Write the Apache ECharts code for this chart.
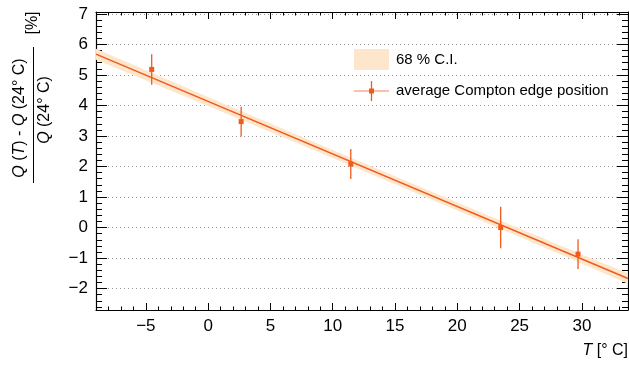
<!DOCTYPE html>
<html>
<head>
<meta charset="utf-8">
<script src="https://cdn.jsdelivr.net/npm/echarts@6/dist/echarts.min.js"></script>
<style>
html,body{margin:0;padding:0;background:#fff;}
#c{width:629px;height:365px;}
</style>
</head>
<body>
<div id="c"></div>
<script>
// ---- data ----
const tempC      = [-4.53, 2.65, 11.45, 23.48, 29.69];   // T [°C]
const deltaQ     = [5.18, 3.47, 2.08, 0.00, -0.87];     // relative change [%]
const deltaQErr  = [0.50, 0.49, 0.49, 0.68, 0.49];     // symmetric error

const fitX  = [-9, 33.7];
const fitY  = [5.68, -1.67];

const bandX  = [-9, 0, 10, 20, 30, 33.7];
const bandLo = [5.50, 3.98, 2.28, 0.56, -1.18, -1.84];
const bandHi = [5.86, 4.28, 2.54, 0.82, -0.88, -1.50];

const xMin = -9, xMax = 33.7;
const yMin = -2.7, yMax = 7.06;

const legendNames = ['68 % C.I.', 'average Compton edge position'];

// ---- styling ----
const ORANGE = '#f25a1c';
const PEACH  = '#fde6cb';
const FONT   = '"Liberation Sans", Arial, Helvetica, sans-serif';

const chart = echarts.init(document.getElementById('c'), null, {renderer: 'canvas'});

function minusFmt(v) { return String(v).replace('-', '\u2212'); }

function xAxisDef(pos, major) {
  return {
    type: 'value', position: pos, min: xMin, max: xMax,
    splitNumber: major ? 9 : 43,
    axisLine: {show: major, onZero: false, lineStyle: {color: '#000', width: 1.2}},
    axisTick: {show: true, inside: true, length: major ? 7 : 3.5, lineStyle: {color: '#000', width: 1}},
    axisLabel: {show: major && pos === 'bottom', showMinLabel: false, showMaxLabel: false,
                formatter: minusFmt, color: '#000', fontSize: 17, fontFamily: FONT, margin: 8},
    splitLine: {show: false}
  };
}
function yAxisDef(pos, major) {
  return {
    type: 'value', position: pos, min: yMin, max: yMax,
    splitNumber: major ? 10 : 49,
    axisLine: {show: major, onZero: false, lineStyle: {color: '#000', width: 1.2}},
    axisTick: {show: true, inside: true, length: major ? 11 : 6, lineStyle: {color: '#000', width: 1}},
    axisLabel: {show: major && pos === 'left', showMinLabel: false, showMaxLabel: false,
                formatter: minusFmt, color: '#000', fontSize: 17, fontFamily: FONT, margin: 8},
    splitLine: {show: major && pos === 'left', lineStyle: {color: '#999', type: [1, 3], width: 1}}
  };
}

const option = {
  animation: false,
  backgroundColor: '#fff',
  grid: {left: 96, top: 12, width: 532, height: 298, containLabel: false},
  xAxis: [xAxisDef('bottom', true), xAxisDef('bottom', false), xAxisDef('top', true), xAxisDef('top', false)],
  yAxis: [yAxisDef('left', true), yAxisDef('left', false), yAxisDef('right', true), yAxisDef('right', false)],
  series: [
    {
      name: legendNames[0],
      type: 'custom',
      xAxisIndex: 0, yAxisIndex: 0,
      clip: true,
      data: [[bandX[0], bandLo[0]]],
      renderItem: function (params, api) {
        const pts = [];
        for (let i = 0; i < bandX.length; i++) pts.push(api.coord([bandX[i], bandHi[i]]));
        for (let i = bandX.length - 1; i >= 0; i--) pts.push(api.coord([bandX[i], bandLo[i]]));
        return {type: 'polygon', shape: {points: pts}, style: {fill: PEACH}, silent: true};
      },
      z: 1
    },
    {
      name: 'fit',
      type: 'line',
      xAxisIndex: 0, yAxisIndex: 0,
      data: fitX.map((x, i) => [x, fitY[i]]),
      showSymbol: false, symbol: 'none',
      lineStyle: {color: ORANGE, width: 1.5},
      z: 2
    },
    {
      name: legendNames[1],
      type: 'custom',
      xAxisIndex: 0, yAxisIndex: 0,
      data: tempC.map((x, i) => [x, deltaQ[i], deltaQErr[i]]),
      renderItem: function (params, api) {
        const x = api.value(0), y = api.value(1), e = api.value(2);
        const top = api.coord([x, y + e]);
        const bot = api.coord([x, y - e]);
        const c = api.coord([x, y]);
        const s = 5;
        return {
          type: 'group',
          children: [
            {type: 'line', shape: {x1: top[0], y1: top[1], x2: bot[0], y2: bot[1]},
             style: {stroke: ORANGE, lineWidth: 1.3}},
            {type: 'rect', shape: {x: c[0] - s / 2, y: c[1] - s / 2, width: s, height: s},
             style: {fill: ORANGE}}
          ]
        };
      },
      z: 3
    }
  ],
  graphic: [
    // y-axis title (fraction)
    {
      type: 'text', x: 20, y: 118, rotation: Math.PI / 2,
      style: {
        text: '{i|Q} ({i|T}) - {i|Q} (24° C)',
        fontSize: 16, fontFamily: FONT, fill: '#000',
        align: 'center', verticalAlign: 'middle',
        rich: {i: {fontStyle: 'italic', fontSize: 16, fontFamily: FONT}}
      }
    },
    {type: 'line', shape: {x1: 33.5, y1: 47, x2: 33.5, y2: 183}, style: {stroke: '#000', lineWidth: 1}},
    {
      type: 'text', x: 45, y: 110, rotation: Math.PI / 2,
      style: {
        text: '{i|Q} (24° C)',
        fontSize: 16, fontFamily: FONT, fill: '#000',
        align: 'center', verticalAlign: 'middle',
        rich: {i: {fontStyle: 'italic', fontSize: 16, fontFamily: FONT}}
      }
    },
    {
      type: 'text', x: 33, y: 23, rotation: Math.PI / 2,
      style: {text: '[%]', fontSize: 16, fontFamily: FONT, fill: '#000', align: 'center', verticalAlign: 'middle'}
    },
    // x-axis title
    {
      type: 'text', right: 1, top: 343,
      style: {
        text: '{i|T} [° C]', fontSize: 16, fontFamily: FONT, fill: '#000',
        rich: {i: {fontStyle: 'italic', fontSize: 16, fontFamily: FONT}}
      }
    },
    // legend
    {type: 'rect', shape: {x: 354, y: 49, width: 35, height: 21}, style: {fill: PEACH}},
    {type: 'text', x: 396, y: 60, style: {text: legendNames[0], fontSize: 15, fontFamily: FONT, fill: '#000', verticalAlign: 'middle'}},
    {type: 'line', shape: {x1: 354, y1: 91, x2: 389, y2: 91}, style: {stroke: ORANGE, lineWidth: 1.2, opacity: 0.75}},
    {type: 'line', shape: {x1: 371.5, y1: 81, x2: 371.5, y2: 101}, style: {stroke: ORANGE, lineWidth: 1.3}},
    {type: 'rect', shape: {x: 369, y: 88.5, width: 5, height: 5}, style: {fill: ORANGE}},
    {type: 'text', x: 396, y: 91, style: {text: legendNames[1], fontSize: 15, fontFamily: FONT, fill: '#000', verticalAlign: 'middle'}}
  ]
};
chart.setOption(option);
</script>
</body>
</html>
